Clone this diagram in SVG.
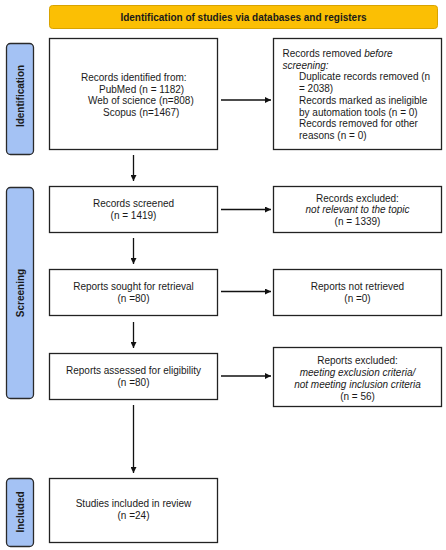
<svg xmlns="http://www.w3.org/2000/svg" width="446" height="550" viewBox="0 0 446 550">
<style>
text{font-family:"Liberation Sans",Arial,sans-serif;font-size:10px;fill:#1a1a1a}
.b{font-weight:bold}
.box{fill:#fff;stroke:#222;stroke-width:1.3}
.side{fill:#a4c2f4;stroke:#2a2a2a;stroke-width:1.3}
.c{text-anchor:middle}
.conn{stroke:#111;stroke-width:1.3;fill:none;marker-end:url(#ah)}
</style>
<defs>
<marker id="ah" viewBox="0 0 10 10" refX="10" refY="5" markerWidth="6" markerHeight="6" markerUnits="userSpaceOnUse" orient="auto">
<path d="M0,0 L10,5 L0,10 z" fill="#111"/>
</marker>
</defs>
<rect width="446" height="550" fill="#fff"/>
<g id="header">
<rect x="49.5" y="5.5" width="388" height="23" rx="3" fill="#fbbf04" stroke="#d8a300" stroke-width="1"/>
<text class="b c" x="243.5" y="20.5">Identification of studies via databases and registers</text>
</g>
<g id="side-identification">
<rect class="side" x="6.5" y="43.5" width="27" height="111" rx="4"/>
<text class="b c" transform="translate(23.5,96) rotate(-90)">Identification</text>
</g>
<g id="side-screening">
<rect class="side" x="6.5" y="187.5" width="27" height="211" rx="4"/>
<text class="b c" transform="translate(23.5,293) rotate(-90)">Screening</text>
</g>
<g id="side-included">
<rect class="side" x="6.5" y="478.5" width="27" height="68" rx="4"/>
<text class="b c" transform="translate(23.5,512) rotate(-90)">Included</text>
</g>
<g id="records-identified">
<rect class="box" x="49.5" y="38.5" width="168" height="111"/>
<text x="81" y="81">Records identified from:</text>
<text x="99" y="92.5">PubMed (n = 1182)</text>
<text x="88" y="104">Web of science (n=808)</text>
<text x="103" y="115.5">Scopus (n=1467)</text>
</g>
<g id="records-removed">
<rect class="box" x="273.5" y="38.5" width="168" height="111"/>
<text x="282.5" y="57">Records removed <tspan font-style="italic">before</tspan></text>
<text x="282.5" y="68.7" font-style="italic">screening:</text>
<text x="299" y="80.4">Duplicate records removed (n</text>
<text x="299" y="92.1">= 2038)</text>
<text x="299" y="103.8">Records marked as ineligible</text>
<text x="299" y="115.5">by automation tools (n = 0)</text>
<text x="299" y="127.2">Records removed for other</text>
<text x="299" y="138.9">reasons (n = 0)</text>
</g>
<g id="records-screened">
<rect class="box" x="49.5" y="186.5" width="168" height="46"/>
<text class="c" x="133.5" y="207">Records screened</text>
<text class="c" x="133.5" y="219">(n = 1419)</text>
</g>
<g id="records-excluded">
<rect class="box" x="273.5" y="186.5" width="168" height="46"/>
<text class="c" x="357.5" y="201.5">Records excluded:</text>
<text class="c" x="357.5" y="213" font-style="italic">not relevant to the topic</text>
<text class="c" x="357.5" y="224.5">(n = 1339)</text>
</g>
<g id="reports-sought">
<rect class="box" x="49.5" y="269.5" width="168" height="46"/>
<text class="c" x="133.5" y="290">Reports sought for retrieval</text>
<text class="c" x="133.5" y="302">(n =80)</text>
</g>
<g id="reports-not-retrieved">
<rect class="box" x="273.5" y="269.5" width="168" height="46"/>
<text class="c" x="357.5" y="290">Reports not retrieved</text>
<text class="c" x="357.5" y="302">(n =0)</text>
</g>
<g id="reports-assessed">
<rect class="box" x="49.5" y="353.5" width="168" height="46"/>
<text class="c" x="133.5" y="374">Reports assessed for eligibility</text>
<text class="c" x="133.5" y="386">(n =80)</text>
</g>
<g id="reports-excluded">
<rect class="box" x="273.5" y="347.5" width="168" height="59"/>
<text class="c" x="357.5" y="364">Reports excluded:</text>
<text class="c" x="357.5" y="376" font-style="italic">meeting exclusion criteria/</text>
<text class="c" x="357.5" y="388" font-style="italic">not meeting inclusion criteria</text>
<text class="c" x="357.5" y="400">(n = 56)</text>
</g>
<g id="studies-included">
<rect class="box" x="49.5" y="478.5" width="168" height="64"/>
<text class="c" x="133.5" y="507">Studies included in review</text>
<text class="c" x="133.5" y="519">(n =24)</text>
</g>
<g id="connectors">
<line class="conn" x1="221" y1="100" x2="271" y2="100"/>
<line class="conn" x1="133.5" y1="155" x2="133.5" y2="181"/>
<line class="conn" x1="221" y1="209.5" x2="271" y2="209.5"/>
<line class="conn" x1="133.5" y1="238" x2="133.5" y2="264"/>
<line class="conn" x1="221" y1="291.5" x2="271" y2="291.5"/>
<line class="conn" x1="133.5" y1="322" x2="133.5" y2="348"/>
<line class="conn" x1="221" y1="376" x2="271" y2="376"/>
<line class="conn" x1="133.5" y1="405" x2="133.5" y2="473"/>
</g>
</svg>
